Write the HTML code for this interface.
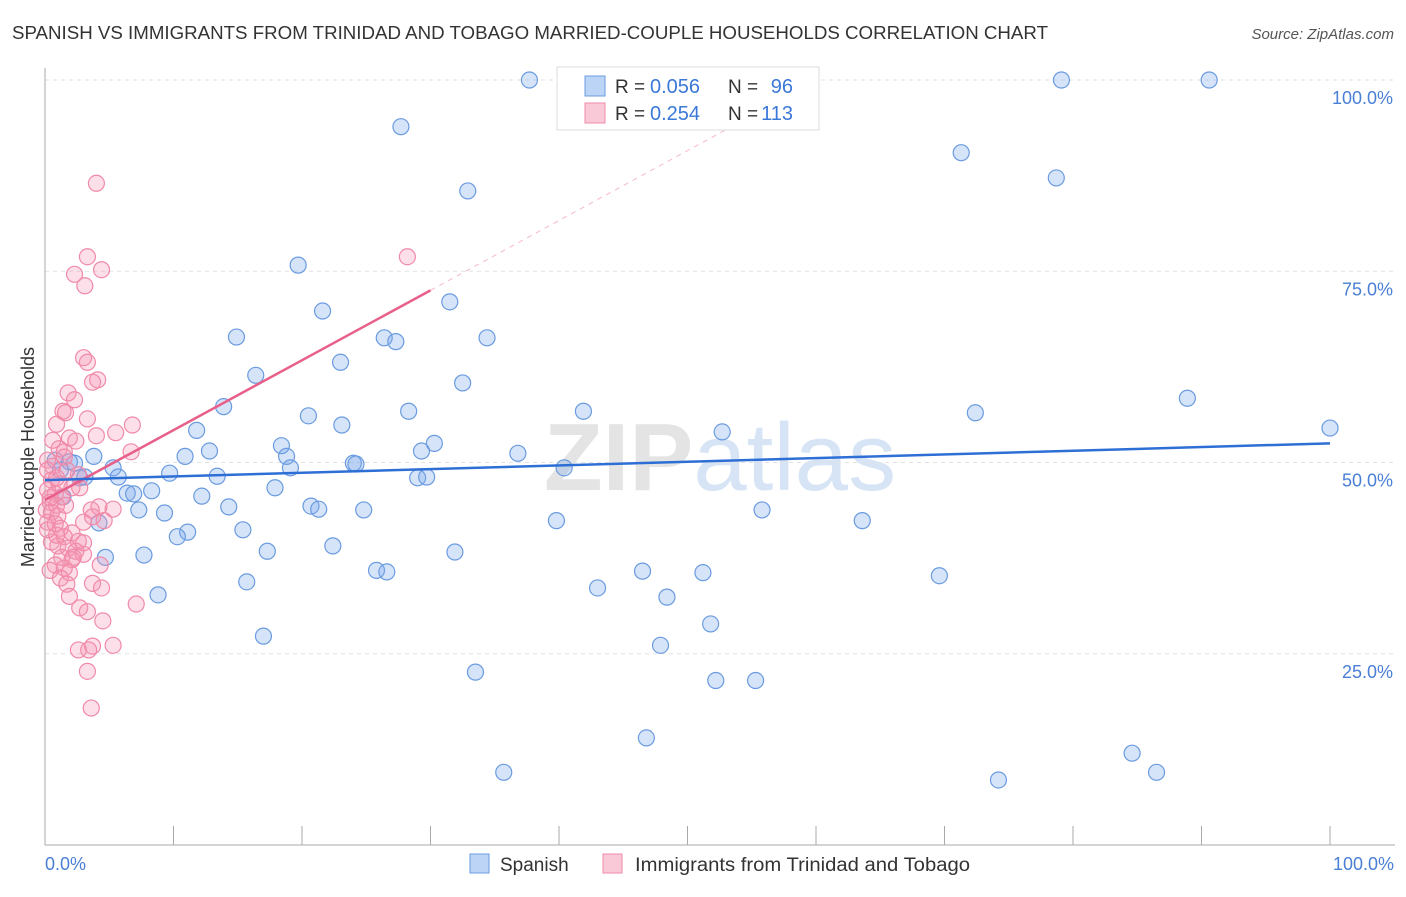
<!DOCTYPE html>
<html><head><meta charset="utf-8"><style>
body{margin:0;background:#fff;font-family:"Liberation Sans",sans-serif;}
svg text{font-family:"Liberation Sans",sans-serif;}
</style></head><body>
<svg id="chart" width="1406" height="892">
<text x="12" y="39" font-size="18" fill="#333" textLength="1036" lengthAdjust="spacingAndGlyphs">SPANISH VS IMMIGRANTS FROM TRINIDAD AND TOBAGO MARRIED-COUPLE HOUSEHOLDS CORRELATION CHART</text>
<text x="1394" y="39" font-size="15" fill="#555" font-style="italic" text-anchor="end">Source: ZipAtlas.com</text>
<text x="720" y="490" font-size="96" fill="#e4e4e4" text-anchor="middle" font-weight="bold">ZIP<tspan fill="#d6e4f5" font-weight="normal">atlas</tspan></text>
<g id="grid"></g><g id="axes"></g><g id="marks"></g>
<text transform="translate(34,457) rotate(-90)" font-size="18" fill="#333" text-anchor="middle">Married-couple Households</text>
<text x="45" y="870" font-size="18" fill="#4a7fd6">0.0%</text>
<text x="1394" y="870" font-size="18" fill="#4a7fd6" text-anchor="end">100.0%</text>
<g>
<rect x="557" y="67" width="262" height="63" fill="#fff" stroke="#ddd"/>
<rect x="585" y="76" width="20" height="20" fill="#bcd4f5" stroke="#6a9be0"/>
<rect x="585" y="103" width="20" height="20" fill="#f9c9d8" stroke="#f08aa8"/>
<text x="615" y="93" font-size="19" fill="#333">R =</text>
<text x="650" y="93" font-size="20" fill="#3b78d8">0.056</text>
<text x="728" y="93" font-size="19" fill="#333">N =</text>
<text x="793" y="93" font-size="20" fill="#3b78d8" text-anchor="end">96</text>
<text x="615" y="120" font-size="19" fill="#333">R =</text>
<text x="650" y="120" font-size="20" fill="#3b78d8">0.254</text>
<text x="728" y="120" font-size="19" fill="#333">N =</text>
<text x="793" y="120" font-size="20" fill="#3b78d8" text-anchor="end">113</text>
</g>
<g>
<rect x="470" y="854" width="19" height="19" fill="#bcd4f5" stroke="#6a9be0"/>
<text x="500" y="871" font-size="19" fill="#333">Spanish</text>
<rect x="603" y="854" width="19" height="19" fill="#f9c9d8" stroke="#f08aa8"/>
<text x="635" y="871" font-size="19" fill="#333" textLength="335" lengthAdjust="spacingAndGlyphs">Immigrants from Trinidad and Tobago</text>
</g>
</svg>
<script>
const yTicks=[25,50,75,100];
const yTickLabels=["25.0%","50.0%","75.0%","100.0%"];
const xTicks=[0,10,20,30,40,50,60,70,80,90,100];
const blueX=[37.7,79.1,90.6,27.7,71.3,32.9,78.7,19.7,31.5,21.6,14.9,26.4,27.3,34.4,23.0,16.4,32.5,88.9,13.9,28.3,41.9,72.4,20.5,100,23.1,11.8,52.7,30.3,18.4,29.3,36.8,18.8,12.8,24.0,24.2,40.4,19.1,5.3,10.9,9.7,13.4,5.7,29.0,29.7,2.7,17.9,8.3,6.4,6.9,12.2,20.7,21.3,24.8,14.3,7.3,9.3,55.8,39.8,63.6,15.4,11.1,10.3,22.4,17.3,31.9,7.7,4.7,25.8,26.6,46.5,51.2,69.6,15.7,43.0,48.4,8.8,51.8,17.0,47.9,33.5,52.2,55.3,46.8,84.6,35.7,86.5,74.2,0.8,1.9,3.8,1.2,4.2,1.4,2.3,3.1];
const blueY=[100,100,100,93.9,90.5,85.5,87.2,75.8,71.0,69.8,66.4,66.3,65.8,66.3,63.1,61.4,60.4,58.4,57.3,56.7,56.7,56.5,56.1,54.5,54.9,54.2,54.0,52.5,52.2,51.5,51.2,50.8,51.5,49.9,49.8,49.3,49.3,49.3,50.8,48.6,48.2,48.1,48.0,48.1,48.0,46.7,46.3,46.0,45.9,45.6,44.3,43.9,43.8,44.2,43.8,43.4,43.8,42.4,42.4,41.2,40.9,40.3,39.1,38.4,38.3,37.9,37.6,35.9,35.7,35.8,35.6,35.2,34.4,33.6,32.4,32.7,28.9,27.3,26.1,22.6,21.5,21.5,14.0,12.0,9.5,9.5,8.5,50.3,50.1,50.8,49.0,42.1,45.5,49.9,48.1];
const pinkX=[4.0,3.3,2.3,4.4,3.1,28.2,3.0,3.3,4.1,3.7,1.8,2.3,1.4,1.6,3.3,6.8,4.0,0.9,1.9,2.4,5.5,1.1,1.5,6.7,0.2,0.6,1.7,2.6,0.5,1.1,2.7,0.2,0.8,1.3,0.4,0.9,0.1,0.5,1.0,3.6,4.2,5.3,0.2,0.8,1.2,3.0,4.6,3.7,2.1,1.5,2.6,0.5,1.0,1.8,2.4,3.0,1.3,2.1,0.8,1.5,0.4,1.9,1.2,4.3,3.7,1.7,4.4,1.9,2.7,3.3,4.5,7.1,2.6,3.7,3.4,5.3,3.3,3.6,0.6,1.5,0.2,0.4,0.9,2.1,1.6,3.0,2.2,0.9,0.2];
const pinkY=[86.5,76.9,74.6,75.2,73.1,76.9,63.7,63.1,60.8,60.5,59.1,58.2,56.7,56.5,55.7,54.9,53.5,55.0,53.2,52.8,53.9,51.8,51.4,51.4,50.3,49.5,49.0,48.4,47.7,47.2,46.7,46.4,45.9,45.5,44.8,44.4,43.8,43.5,43.0,43.8,44.2,43.9,42.2,42.0,41.4,42.2,42.4,42.9,40.8,40.3,39.7,39.6,39.1,38.8,38.4,38.0,37.6,37.3,36.6,36.2,35.9,35.6,34.9,36.6,34.2,34.1,33.6,32.5,31.0,30.5,29.3,31.5,25.5,26.0,25.5,26.1,22.7,17.9,52.9,50.7,49.0,45.4,48.0,46.7,44.4,39.5,37.6,40.5,41.2];
const blueTrend=[47.7,52.5];
const pinkTrend=[45.1,72.5];
const pinkTrendEnd=30;
const NS="http://www.w3.org/2000/svg";
const X=v=>45+v*12.85, Y=v=>845-v*7.65;
function mk(tag,attrs,parent){const e=document.createElementNS(NS,tag);for(const k in attrs)e.setAttribute(k,attrs[k]);document.getElementById(parent).appendChild(e);return e;}
yTicks.forEach((t,i)=>{
 const l=mk('line',{x1:45,x2:1395,y1:Y(t),y2:Y(t),stroke:'#e2e2e2','stroke-dasharray':'4,4'},'grid');
 
 
 const tx=mk('text',{x:1393,y:Y(t)+24,'font-size':18,fill:'#4a7fd6','text-anchor':'end'},'grid');
 tx.textContent=yTickLabels[i];
 
 
});
const ya=mk('line',{x1:45,x2:45,y1:68,y2:845,stroke:'#aaa'},'axes');


const xa=mk('line',{x1:45,x2:1395,y1:845,y2:845,stroke:'#aaa'},'axes');


xTicks.forEach(t=>{
 const l=mk('line',{x1:X(t),x2:X(t),y1:826,y2:845,stroke:'#aaa'},'axes');
 
 
});
blueX.forEach((v,i)=>{
 const c=mk('circle',{cx:X(v),cy:Y(blueY[i]),r:8,fill:'rgba(120,165,235,0.3)',stroke:'#6a9be0','stroke-width':1.2},'marks');
 
 
});
pinkX.forEach((v,i)=>{
 const c=mk('circle',{cx:X(v),cy:Y(pinkY[i]),r:8,fill:'rgba(245,150,180,0.3)',stroke:'#f08aa8','stroke-width':1.2},'marks');
 
 
});
const slope=(pinkTrend[1]-pinkTrend[0])/pinkTrendEnd;
const pd=mk('line',{x1:X(pinkTrendEnd),y1:Y(pinkTrend[1]),x2:X(53),y2:Y(pinkTrend[0]+slope*53),stroke:'#f4b8c9','stroke-dasharray':'5,5','stroke-width':1},'marks');


const pl=mk('line',{x1:X(0),y1:Y(pinkTrend[0]),x2:X(pinkTrendEnd),y2:Y(pinkTrend[1]),stroke:'#e8608a','stroke-width':2.5},'marks');


const bl=mk('line',{x1:X(0),y1:Y(blueTrend[0]),x2:X(100),y2:Y(blueTrend[1]),stroke:'#2e6fd6','stroke-width':2.5},'marks');


</script>
</body></html>
